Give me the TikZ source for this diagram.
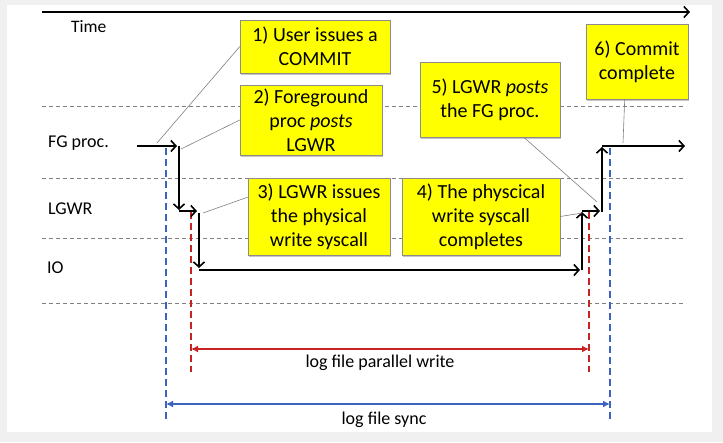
\documentclass[tikz,border=0pt]{standalone}
\usepackage{fontspec}
\setmainfont{Carlito}
\usepackage{tikz}
\usetikzlibrary{calc}
\usetikzlibrary{positioning}
\usetikzlibrary{shapes}
\usetikzlibrary{arrows}
\usetikzlibrary{arrows.meta}
\usetikzlibrary{shadows}
\definecolor{noteyellow}{RGB}{255,255,0}
\definecolor{syncblue}{RGB}{60,100,190}
\definecolor{writered}{RGB}{200,35,35}
\definecolor{panelgray}{RGB}{240,240,240}

\tikzset{
    note/.style={draw=black!45, fill=noteyellow, align=center, inner sep=0pt,
        font=\fontsize{20}{24}\selectfont,
        drop shadow={shadow xshift=1.2pt, shadow yshift=-1.5pt, opacity=0.45}},
    lane/.style={anchor=west, inner sep=0pt, font=\fontsize{18}{22}\selectfont},
    lanesep/.style={gray, line width=0.8pt, dash pattern=on 4pt off 3pt},
    callout/.style={gray, line width=0.6pt},
    stepline/.style={-{Straight Barb[length=5pt, width=11pt, line width=1.6pt]}, line width=1.6pt},
    syncmark/.style={syncblue, line width=1.8pt, dash pattern=on 7pt off 4pt},
    writemark/.style={writered, line width=1.8pt, dash pattern=on 7pt off 4pt}
}

\begin{document}
\begin{tikzpicture}[x=1pt, y=-1pt]
    \useasboundingbox (0,0) rectangle (723,442);
    \fill[panelgray] (0,0) rectangle (723,442);
    \fill[white] (7,5) rectangle (712,432);

    % time axis and lanes
    \coordinate (t0) at (42,12);
    \coordinate (t1) at (690,12);
    \draw[stepline] (t0) -- (t1);
    \node[lane, font=\fontsize{17.5}{21}\selectfont] (time) at (71,27) {Time};

    \draw[lanesep] (42,106) -- (686,106);
    \draw[lanesep] (42,178) -- (686,178);
    \draw[lanesep] (42,238) -- (686,238);
    \draw[lanesep] (42,303) -- (686,303);

    \node[lane] (fg) at (48,143) {FG proc.};
    \node[lane] (lgwr) at (48,209) {LGWR};
    \node[lane] (io) at (47,268) {IO};

    % sync and write markers
    \draw[syncmark] (166,148) -- (166,422);
    \draw[syncmark] (610,148) -- (610,422);
    \draw[writemark] (191,212) -- (191,372);
    \draw[writemark] (589,212) -- (589,372);

    \coordinate (wa) at (191,349);
    \coordinate (wb) at (589,349);
    \coordinate (sa) at (166,404);
    \coordinate (sb) at (610,404);
    \draw[{Latex[length=7pt, width=7pt]}-{Latex[length=7pt, width=7pt]}, writered, line width=2pt] (wa) -- (wb);
    \draw[{Latex[length=7pt, width=7pt]}-{Latex[length=7pt, width=7pt]}, syncblue, line width=2pt] (sa) -- (sb);
    \node[font=\fontsize{18}{22}\selectfont] (pw) at (380,363) {log file parallel write};
    \node[font=\fontsize{18}{22}\selectfont] (ls) at (384,420) {log file sync};

    % the path of a commit
    \coordinate (a0) at (137,146);
    \coordinate (a1) at (177,146);
    \coordinate (b0) at (179,146);
    \coordinate (b1) at (179,210);
    \coordinate (c0) at (179,211);
    \coordinate (c1) at (197,211);
    \coordinate (d0) at (199,213);
    \coordinate (d1) at (199,268);
    \coordinate (e0) at (199,270);
    \coordinate (e1) at (580,270);
    \coordinate (f0) at (582,270);
    \coordinate (f1) at (582,212);
    \coordinate (g0) at (582,211);
    \coordinate (g1) at (600,211);
    \coordinate (h0) at (602,212);
    \coordinate (h1) at (602,147);
    \coordinate (i0) at (602,146);
    \coordinate (i1) at (685,146);

    \draw[stepline] (a0) -- (a1);
    \draw[stepline] (b0) -- (b1);
    \draw[stepline] (c0) -- (c1);
    \draw[stepline] (d0) -- (d1);
    \draw[stepline] (e0) -- (e1);
    \draw[stepline] (f0) -- (f1);
    \draw[stepline] (g0) -- (g1);
    \draw[stepline] (h0) -- (h1);
    \draw[stepline] (i0) -- (i1);

    % the notes
    \node[note, minimum width=150pt, minimum height=53pt] (n1) at (315,46.5) {1) User issues a\\COMMIT};
    \node[note, minimum width=142pt, minimum height=70pt] (n2) at (311,120) {2) Foreground\\proc \emph{posts}\\LGWR};
    \node[note, minimum width=142pt, minimum height=77pt] (n3) at (319,216.5) {3) LGWR issues\\the physical\\write syscall};
    \node[note, minimum width=158pt, minimum height=77pt] (n4) at (481,216.5) {4) The physcical\\write syscall\\completes};
    \node[note, minimum width=140pt, minimum height=75pt] (n5) at (490,99.5) {5) LGWR \emph{posts}\\the FG proc.};
    \node[note, minimum width=102pt, minimum height=75pt] (n6) at (637,61.5) {6) Commit\\complete};

    \coordinate (p1) at (157,143);
    \coordinate (p2) at (181,149);
    \coordinate (p3) at (203,213);
    \coordinate (p4) at (582,213);
    \coordinate (p5) at (597,202);
    \coordinate (p6) at (623,143);

    \draw[callout] (n1.west) -- (p1);
    \draw[callout] (n2.west) -- (p2);
    \draw[callout] ($(n3.north west)!0.25!(n3.south west)$) -- (p3);
    \draw[callout] (n4.east) -- (p4);
    \draw[callout] ($(n5.south west)!0.74!(n5.south east)$) -- (p5);
    \draw[callout] ($(n6.south west)!0.38!(n6.south east)$) -- (p6);
\end{tikzpicture}
\end{document}
